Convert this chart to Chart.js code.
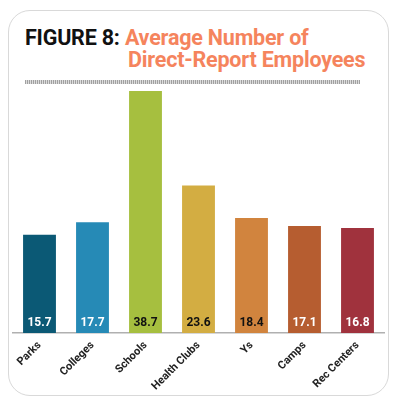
<!DOCTYPE html>
<html>
<head>
<meta charset="utf-8">
<script src="https://cdn.jsdelivr.net/npm/chart.js@4.4.0/dist/chart.umd.min.js"></script>
<style>
    html, body { margin: 0; padding: 0; background: #fff; }
    #wrap { position: relative; width: 400px; height: 405px; overflow: hidden; }
    .card {
        position: absolute; left: 8px; top: 10px; width: 381px; height: 386px;
        border: 1.5px solid #d9d9d9; border-radius: 22px; box-sizing: border-box;
    }
    .title {
        position: absolute; left: 25px; top: 27px;
        font-family: Roboto, sans-serif; font-weight: 700; font-size: 21.5px; line-height: 21px;
        letter-spacing: -0.2px; white-space: nowrap;
    }
    .title .fig { color: #111; }
    .title .sub { color: #f5845d; }
    .title .l2 { position: absolute; left: 103px; top: 22px; color: #f5845d; }
    .rule {
        position: absolute; left: 25px; top: 80px; width: 335px; height: 4px;
        background: repeating-linear-gradient(90deg, #a0a0a0 0 1px, #dcdcdc 1px 2px);
    }
    #chartBox { position: absolute; left: 0; top: 0; width: 400px; height: 400px; }
</style>
</head>
<body>
<div id="wrap">
    <div class="card"></div>
    <div class="title"><span class="fig">FIGURE 8: </span><span class="sub">Average Number of</span>
        <div class="l2">Direct-Report Employees</div></div>
    <div class="rule"></div>
    <div id="chartBox"><canvas id="chart"></canvas></div>
</div>
<script>
var categories = ['Parks', 'Colleges', 'Schools', 'Health Clubs', 'Ys', 'Camps', 'Rec Centers'];
var values = [15.7, 17.7, 38.7, 23.6, 18.4, 17.1, 16.8];
var barColors = ['#0b5975', '#268ab6', '#a6bf3f', '#d3ad42', '#d1843e', '#b65d30', '#a0323d'];
var labelColors = ['#fff', '#fff', '#111', '#111', '#111', '#fff', '#fff'];

// draws the value near the bottom of each bar
var valueLabels = {
    id: 'valueLabels',
    afterDatasetsDraw: function(chart) {
        var ctx = chart.ctx;
        var meta = chart.getDatasetMeta(0);
        ctx.save();
        ctx.font = 'bold 12px Roboto, sans-serif';
        ctx.textAlign = 'center';
        ctx.textBaseline = 'middle';
        meta.data.forEach(function(bar, i) {
            ctx.fillStyle = labelColors[i];
            ctx.fillText(values[i].toFixed(1), bar.x, bar.base - 10);
        });
        ctx.restore();
    }
};

var ctx = document.getElementById('chart').getContext('2d');
var chart = new Chart(ctx, {
    type: 'bar',
    data: {
        labels: categories,
        datasets: [{
            data: values,
            backgroundColor: barColors,
            borderWidth: 0,
            barPercentage: 0.62,
            categoryPercentage: 1
        }]
    },
    options: {
        responsive: true,
        maintainAspectRatio: false,
        animation: false,
        layout: { padding: { left: 13, right: 16, top: 83, bottom: 1 } },
        plugins: { legend: { display: false }, tooltip: { enabled: false } },
        scales: {
            y: { display: false, min: 0, max: 40 },
            x: {
                grid: { display: false, drawTicks: false },
                border: { color: '#b0b0b0', width: 1.5 },
                ticks: {
                    autoSkip: false,
                    minRotation: 45,
                    maxRotation: 45,
                    padding: 6,
                    color: '#222',
                    font: { family: 'Roboto, sans-serif', weight: 'bold', size: 11 }
                }
            }
        }
    },
    plugins: [valueLabels]
});
</script>
</body>
</html>
